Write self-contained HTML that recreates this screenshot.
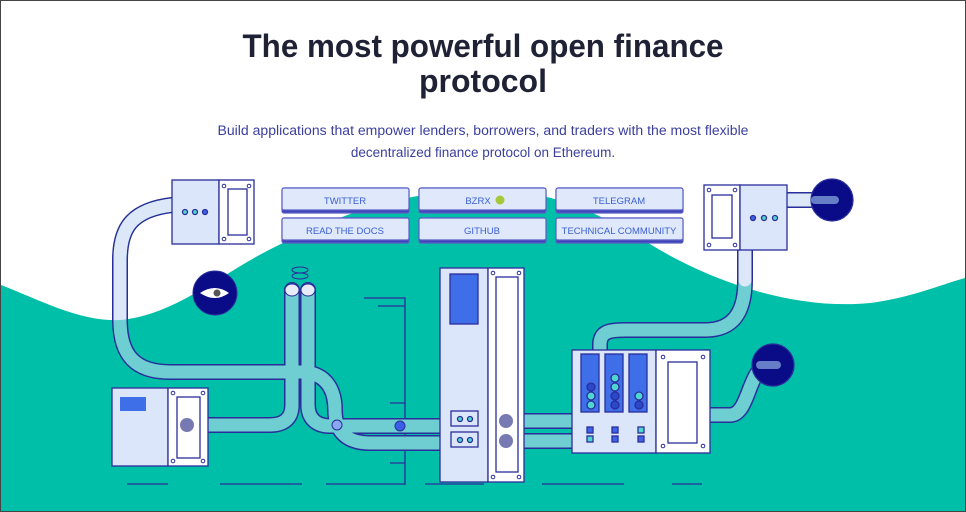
<!DOCTYPE html>
<html><head><meta charset="utf-8"><style>
html,body{margin:0;padding:0;background:#fff}
svg{display:block}
</style></head><body>
<svg width="966" height="512" viewBox="0 0 966 512" xmlns="http://www.w3.org/2000/svg" font-family="Liberation Sans, sans-serif">
<rect x="0.5" y="0.5" width="965" height="511" fill="#fff" stroke="#444"/>
<!-- wave -->
<path d="M1 285 C40 300 80 322 120 320 C180 315 230 265 290 240 C360 205 420 190 490 190 C560 190 610 220 660 250 C720 285 800 310 870 303 C910 298 940 285 965 278 L965 511 L1 511 Z" fill="#00bfa8"/>
<text x="483" y="57" text-anchor="middle" font-size="32" font-weight="bold" fill="#1f2235" textLength="481" lengthAdjust="spacingAndGlyphs">The most powerful open finance</text>
<text x="483" y="92" text-anchor="middle" font-size="32" font-weight="bold" fill="#1f2235">protocol</text>
<text x="483" y="135" text-anchor="middle" font-size="13.5" fill="#3b3f9c" textLength="531" lengthAdjust="spacingAndGlyphs">Build applications that empower lenders, borrowers, and traders with the most flexible</text>
<text x="483" y="157" text-anchor="middle" font-size="13.5" fill="#3b3f9c">decentralized finance protocol on Ethereum.</text>

<g stroke="#2a2e9a" stroke-width="1.3" fill="none">
<path d="M364 298H405V485M378 306H405M390 403H405M390 463H405"/>
<path d="M127 484H168M220 484H302M326 484H405M425 484H484M542 484H624M672 484H702"/>
</g>

<!-- pipes -->
<g fill="none" stroke-linecap="round">
<g stroke="#2a2e9a" stroke-width="16">
<path d="M172 205 C130 210 120 230 120 260 V320 C120 355 135 372 170 372 H300 C330 372 335 395 335 410 C335 430 345 443 370 443 H500"/>
<path d="M292 290 V405 C292 420 282 425 270 425 H187"/>
<path d="M308 290 V405 C308 420 318 426 330 426 H500"/>
<path d="M500 421 H572 M500 441 H572"/>
<path d="M600 350 V345 C600 332 608 330 625 330 H705 C735 330 745 310 745 280 V250"/>
<path d="M787 200 H828"/>
<path d="M710 415 H730 C750 415 748 365 770 365"/>
</g>
<g stroke="#00bfa8" stroke-width="13">
<path d="M172 205 C130 210 120 230 120 260 V320 C120 355 135 372 170 372 H300 C330 372 335 395 335 410 C335 430 345 443 370 443 H500"/>
<path d="M292 290 V405 C292 420 282 425 270 425 H187"/>
<path d="M308 290 V405 C308 420 318 426 330 426 H500"/>
<path d="M500 421 H572 M500 441 H572"/>
<path d="M600 350 V345 C600 332 608 330 625 330 H705 C735 330 745 310 745 280 V250"/>
<path d="M787 200 H828"/>
<path d="M710 415 H730 C750 415 748 365 770 365"/>
</g>
<g stroke="#c8dcf5" stroke-width="13" opacity="0.55">
<path d="M172 205 C130 210 120 230 120 260 V320 C120 355 135 372 170 372 H300 C330 372 335 395 335 410 C335 430 345 443 370 443 H500"/>
<path d="M292 290 V405 C292 420 282 425 270 425 H187"/>
<path d="M308 290 V405 C308 420 318 426 330 426 H500"/>
<path d="M500 421 H572 M500 441 H572"/>
<path d="M600 350 V345 C600 332 608 330 625 330 H705 C735 330 745 310 745 280 V250"/>
<path d="M787 200 H828"/>
<path d="M710 415 H730 C750 415 748 365 770 365"/>
</g>
</g>
<!-- whiten pipe parts over white background -->
<clipPath id="wh"><path d="M0 0 H966 V278 C940 285 910 298 870 303 C800 310 720 285 660 250 C610 220 560 190 490 190 C420 190 360 205 290 240 C230 265 180 315 120 320 C80 322 40 300 0 285 Z"/></clipPath>
<g clip-path="url(#wh)" fill="none" stroke="#dce7f8" stroke-width="13" stroke-linecap="round">
<path d="M172 205 C130 210 120 230 120 260 V320 C120 355 135 372 170 372"/>
<path d="M745 280 V250"/>
<path d="M787 200 H828"/>
</g>
<ellipse cx="292" cy="290" rx="7" ry="6" fill="#e8ecfa" stroke="#2a2e9a"/>
<ellipse cx="308" cy="290" rx="7" ry="6" fill="#e8ecfa" stroke="#2a2e9a"/>
<ellipse cx="300" cy="270" rx="8" ry="3" fill="none" stroke="#2a2e9a"/>
<ellipse cx="300" cy="276" rx="8" ry="3" fill="none" stroke="#2a2e9a"/>
<circle cx="337" cy="425" r="5" fill="#8aa8f0" stroke="#2a2e9a"/>
<circle cx="400" cy="426" r="5" fill="#3a5ee6" stroke="#2a2e9a"/>

<!-- eye -->
<circle cx="215" cy="293" r="22" fill="#0a0b86" stroke="#2a2e9a"/>
<path d="M200 293 Q215 283 229 293 Q215 303 200 293Z" fill="#fff"/>
<circle cx="217" cy="293" r="3.5" fill="#555"/>

<!-- buttons -->
<g font-size="9.5" fill="#3a5fd6" text-anchor="middle">
<g stroke="#5b5fc7" stroke-width="1.2">
<rect x="282" y="188" width="127" height="25" rx="2" fill="#3f44b8"/>
<rect x="282" y="188" width="127" height="22" rx="2" fill="#dfe9fb"/>
<rect x="419" y="188" width="127" height="25" rx="2" fill="#3f44b8"/>
<rect x="419" y="188" width="127" height="22" rx="2" fill="#dfe9fb"/>
<rect x="556" y="188" width="127" height="25" rx="2" fill="#3f44b8"/>
<rect x="556" y="188" width="127" height="22" rx="2" fill="#dfe9fb"/>
<rect x="282" y="218" width="127" height="25" rx="2" fill="#3f44b8"/>
<rect x="282" y="218" width="127" height="22" rx="2" fill="#dfe9fb"/>
<rect x="419" y="218" width="127" height="25" rx="2" fill="#3f44b8"/>
<rect x="419" y="218" width="127" height="22" rx="2" fill="#dfe9fb"/>
<rect x="556" y="218" width="127" height="25" rx="2" fill="#3f44b8"/>
<rect x="556" y="218" width="127" height="22" rx="2" fill="#dfe9fb"/>
</g>
<text x="345" y="204">TWITTER</text>
<text x="478" y="204">BZRX</text>
<circle cx="500" cy="200" r="4.5" fill="#a6c83a"/>
<text x="619" y="204">TELEGRAM</text>
<text x="345" y="234">READ THE DOCS</text>
<text x="482" y="234">GITHUB</text>
<text x="619" y="234">TECHNICAL COMMUNITY</text>
</g>

<g stroke="#2a2e9a" stroke-width="1.3">
<rect x="172" y="180" width="47" height="64" fill="#dbe6fb"/>
<rect x="219" y="180" width="35" height="64" fill="#fff"/>
<rect x="228" y="189" width="19" height="46" fill="#fff"/>
<circle cx="185" cy="212" r="2.5" fill="#4fd6d0"/><circle cx="195" cy="212" r="2.5" fill="#4fd6d0"/><circle cx="205" cy="212" r="2.5" fill="#3f63e6"/>
<rect x="112" y="388" width="56" height="78" fill="#dbe6fb"/>
<rect x="168" y="388" width="40" height="78" fill="#fff"/>
<rect x="177" y="397" width="23" height="61" fill="#fff"/>
<rect x="120" y="397" width="26" height="14" fill="#3f6fe8" stroke="none"/>
<rect x="440" y="268" width="48" height="214" fill="#dbe6fb"/>
<rect x="488" y="268" width="36" height="214" fill="#fff"/>
<rect x="496" y="277" width="22" height="195" fill="#fff"/>
<rect x="450" y="274" width="28" height="50" fill="#3f6fe8"/>
<rect x="451" y="411" width="27" height="15" fill="#dbe6fb"/>
<rect x="451" y="432" width="27" height="15" fill="#dbe6fb"/>
<circle cx="460" cy="419" r="2.5" fill="#4fd6d0"/><circle cx="470" cy="419" r="2.5" fill="#4fd6d0"/>
<circle cx="460" cy="440" r="2.5" fill="#4fd6d0"/><circle cx="470" cy="440" r="2.5" fill="#4fd6d0"/>
<rect x="572" y="350" width="84" height="103" fill="#dbe6fb"/>
<rect x="656" y="350" width="54" height="103" fill="#fff"/>
<rect x="668" y="362" width="29" height="81" fill="#fff"/>
<rect x="581" y="354" width="18" height="58" fill="#3f6fe8"/>
<rect x="605" y="354" width="18" height="58" fill="#3f6fe8"/>
<rect x="629" y="354" width="18" height="58" fill="#3f6fe8"/>
<circle cx="591" cy="387" r="4" fill="#2a48c8"/><circle cx="591" cy="396" r="4" fill="#4fd6d0"/><circle cx="591" cy="405" r="4" fill="#4fd6d0"/>
<circle cx="615" cy="378" r="4" fill="#4fd6d0"/><circle cx="615" cy="387" r="4" fill="#4fd6d0"/><circle cx="615" cy="396" r="4" fill="#2a48c8"/><circle cx="615" cy="405" r="4" fill="#2a48c8"/>
<circle cx="639" cy="396" r="4" fill="#4fd6d0"/><circle cx="639" cy="405" r="4" fill="#2a48c8"/>
<rect x="587" y="427" width="6" height="6" fill="#3f63e6"/><rect x="587" y="436" width="6" height="6" fill="#4fd6d0"/>
<rect x="612" y="427" width="6" height="6" fill="#3f63e6"/><rect x="612" y="436" width="6" height="6" fill="#3f63e6"/>
<rect x="638" y="427" width="6" height="6" fill="#4fd6d0"/><rect x="638" y="436" width="6" height="6" fill="#3f63e6"/>
<rect x="704" y="185" width="36" height="65" fill="#fff"/>
<rect x="740" y="185" width="47" height="65" fill="#dbe6fb"/>
<rect x="712" y="195" width="20" height="43" fill="#fff"/>
<circle cx="753" cy="218" r="2.5" fill="#3f63e6"/><circle cx="764" cy="218" r="2.5" fill="#4fd6d0"/><circle cx="775" cy="218" r="2.5" fill="#4fd6d0"/>
<circle cx="832" cy="200" r="21" fill="#0a0b86"/>
<circle cx="773" cy="365" r="21" fill="#0a0b86"/>
</g>
<g stroke="#2a2e9a" stroke-width="1" fill="#fff">
<circle cx="224" cy="186" r="1.8"/><circle cx="249" cy="186" r="1.8"/><circle cx="224" cy="239" r="1.8"/><circle cx="249" cy="239" r="1.8"/>
<circle cx="173" cy="393" r="1.8"/><circle cx="203" cy="393" r="1.8"/><circle cx="173" cy="461" r="1.8"/><circle cx="203" cy="461" r="1.8"/>
<circle cx="493" cy="273" r="1.8"/><circle cx="519" cy="273" r="1.8"/><circle cx="493" cy="477" r="1.8"/><circle cx="519" cy="477" r="1.8"/>
<circle cx="663" cy="357" r="1.8"/><circle cx="703" cy="357" r="1.8"/><circle cx="663" cy="446" r="1.8"/><circle cx="703" cy="446" r="1.8"/>
<circle cx="709" cy="190" r="1.8"/><circle cx="735" cy="190" r="1.8"/><circle cx="709" cy="245" r="1.8"/><circle cx="735" cy="245" r="1.8"/>
</g>
<g fill="#55589f" opacity="0.8">
<circle cx="187" cy="425" r="7"/><circle cx="506" cy="421" r="7"/><circle cx="506" cy="441" r="7"/>
</g>
<g stroke="#7e9ad8" stroke-width="8" stroke-linecap="round" opacity="0.8">
<path d="M815 200 H835 M760 365 H777"/>
</g>
</svg>
</body></html>
